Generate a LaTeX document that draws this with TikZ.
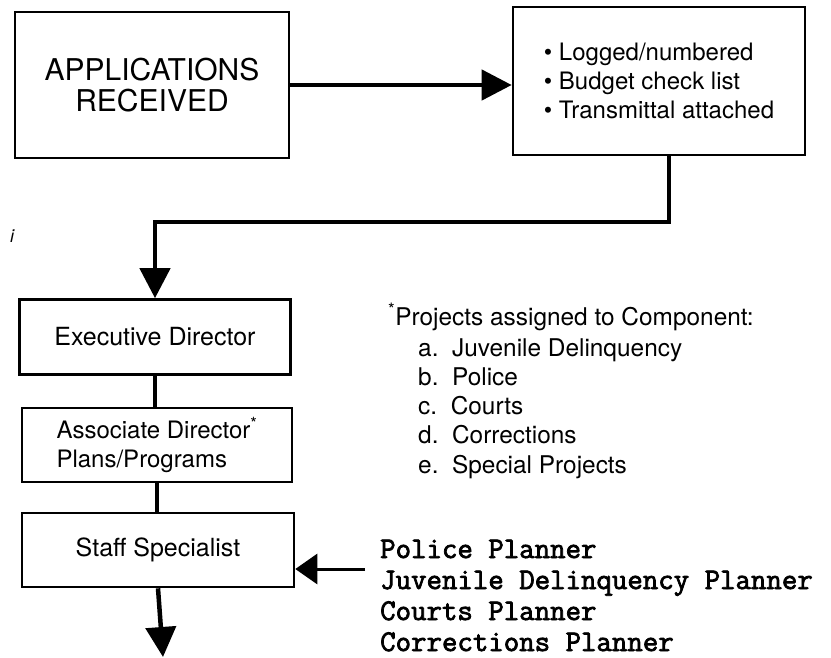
\documentclass[tikz,border=0pt]{standalone}
\usepackage{fontspec}
\setmainfont{TeX Gyre Heros}
\newfontfamily\typer{Latin Modern Mono}[FakeBold=2.5]
\usetikzlibrary{arrows.meta}

\tikzset{
  box/.style={draw, line width=2.6pt, inner sep=0pt, align=center},
  link/.style={line width=4.5pt},
  flow/.style={line width=4.5pt, -{Triangle[length=30pt, width=30pt]}},
}

\begin{document}
\begin{tikzpicture}[x=1pt, y=1pt]
    \useasboundingbox (0,0) rectangle (831,-657);

    % Hop tren cung
    \node[box, minimum width=274pt, minimum height=146pt, font=\fontsize{30}{31}\selectfont] (apps) at (152,-85) {APPLICATIONS\\RECEIVED};
    \node[box, minimum width=292pt, minimum height=148pt, align=left, font=\fontsize{24}{29}\selectfont] (check) at (659,-81) {\textbullet\ Logged/numbered\\\textbullet\ Budget check list\\\textbullet\ Transmittal attached};

    % Cot ben trai
    \node[box, minimum width=271pt, minimum height=75pt, font=\fontsize{25}{26}\selectfont] (exec) at (155,-337) {Executive Director};
    \node[box, minimum width=270pt, minimum height=74pt, align=left, font=\fontsize{24}{29}\selectfont] (assoc) at (157,-445) {Associate Director\textsuperscript{*}\\Plans/Programs};
    \node[box, minimum width=272pt, minimum height=74pt, font=\fontsize{25}{26}\selectfont] (staff) at (158,-550) {Staff Specialist};

    % Ghi chu
    \node[anchor=base west, inner sep=0pt, font=\fontsize{24.4}{29}\selectfont] (note) at (388,-325) {\textsuperscript{*}Projects assigned to Component:};
    \node[anchor=base west, inner sep=0pt, align=left, font=\fontsize{24.4}{29.25}\selectfont] (comps) at (418,-473) {a.~~Juvenile Delinquency\\b.~~Police\\c.~~Courts\\d.~~Corrections\\e.~~Special Projects};
    \node[anchor=base west, inner sep=0pt, align=left, font=\typer\fontsize{30}{31}\selectfont] (plans) at (380,-651) {Police Planner\\Juvenile Delinquency Planner\\Courts Planner\\Corrections Planner};
    \node[inner sep=0pt, font=\itshape\fontsize{18}{18}\selectfont] (mark) at (12,-236) {i};

    % Duong noi
    \coordinate (jog) at (0,-222);
    \coordinate (feed) at (365,-569);
    \coordinate (out) at (163,-657);
    \draw[flow] (apps.east) -- (apps.east -| check.west);
    \draw[flow, line join=miter] ([xshift=10pt]check.south) -- ([xshift=10pt]check.south |- jog) -| (exec.north);
    \draw[link] (exec.south) -- (exec.south |- assoc.north);
    \draw[link] (assoc.south) -- (assoc.south |- staff.north);
    \draw[line width=3pt, -{Triangle[length=22pt, width=30pt]}] (feed) -- (feed -| staff.east);
    \draw[flow] (staff.south) -- (out);
\end{tikzpicture}
\end{document}
